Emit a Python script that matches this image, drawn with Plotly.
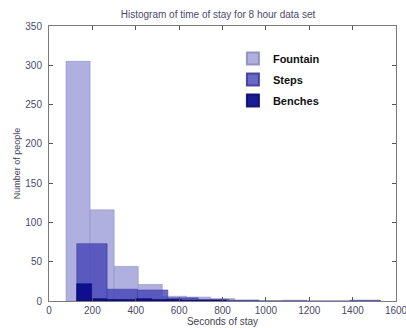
import plotly.graph_objects as go

# Histogram bins (centers, seconds) and counts
fountain_centers = [134, 245, 356, 467, 578, 689, 800, 911, 1022, 1133]
fountain_counts = [305, 116, 44, 21, 6, 5, 3, 1, 0, 1]
fountain_width = 111

steps_centers = [198, 338, 478, 618, 758, 898, 1038, 1178, 1318, 1458]
steps_counts = [73, 15, 14, 4, 2, 1, 0, 0, 0, 1]
steps_width = 140

benches_centers = [162, 231, 300, 369, 438, 507, 576, 645, 714, 783]
benches_counts = [22, 3, 2, 2, 3, 2, 2, 1, 1, 1]
benches_width = 69

x_ticks = [0, 200, 400, 600, 800, 1000, 1200, 1400, 1600]
y_ticks = [0, 50, 100, 150, 200, 250, 300, 350]

FONT = "Liberation Sans, Arial, sans-serif"

fig = go.Figure()
fig.add_trace(go.Bar(
    x=fountain_centers, y=fountain_counts, width=fountain_width, name="Fountain",
    legendgroup="f",
    marker=dict(color="rgb(176,176,224)", line=dict(color="rgba(140,140,190,0.9)", width=0.6)),
))
fig.add_trace(go.Bar(
    x=steps_centers, y=steps_counts, width=steps_width, name="Steps",
    legendgroup="s",
    marker=dict(color="rgba(68,68,183,0.8)", line=dict(color="rgba(60,60,150,0.9)", width=0.6)),
))
fig.add_trace(go.Bar(
    x=benches_centers, y=benches_counts, width=benches_width, name="Benches",
    legendgroup="b",
    marker=dict(color="rgba(8,8,138,0.92)", line=dict(color="rgba(10,10,110,0.9)", width=0.6)),
))

axis_common = dict(
    showline=True, linecolor="#7a7a7a", linewidth=1, mirror="ticks",
    ticks="inside", ticklen=4, tickcolor="#555555", showgrid=False, zeroline=False,
    automargin=False, ticklabeloverflow="allow",
    tickfont=dict(family=FONT, size=10, color="#4a4a6e"),
)

fig.update_layout(
    width=406, height=328,
    margin=dict(l=49, r=10, t=26, b=27),
    barmode="overlay",
    paper_bgcolor="white", plot_bgcolor="white",
    title=dict(text="Histogram of time of stay for 8 hour data set", x=0.537, xanchor="center",
               y=0.955, yanchor="middle",
               font=dict(family=FONT, size=10, color="#4a4a6e")),
    xaxis=dict(range=[0, 1600], tickvals=x_ticks, **axis_common,
               title=dict(text="Seconds of stay", standoff=1,
                          font=dict(family=FONT, size=10, color="#444455"))),
    yaxis=dict(range=[0, 350], tickvals=y_ticks, ticklabelstandoff=4, **axis_common,
               title=dict(text="Number of people", standoff=3,
                          font=dict(family=FONT, size=9, color="#444455"))),
    legend=dict(x=0.53, y=0.935, xanchor="left", yanchor="top", bgcolor="rgba(0,0,0,0)",
                traceorder="grouped", itemsizing="constant", tracegroupgap=2,
                font=dict(family=FONT, size=11, color="#111111", weight="bold")),
    showlegend=True,
)

fig.write_html("out.html", config={"displayModeBar": False},
               post_script="document.body.style.margin='0';")
